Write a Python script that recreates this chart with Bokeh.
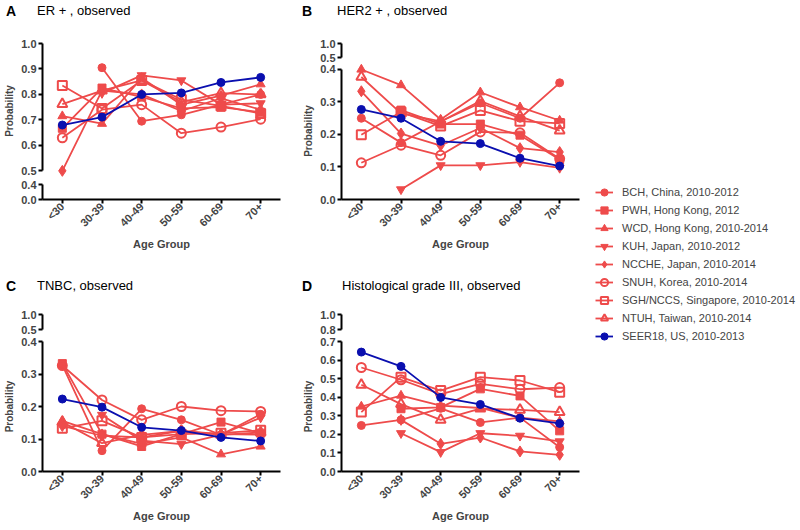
import math
import numpy as np
from bokeh.plotting import figure
from bokeh.layouts import row, column
from bokeh.models import (FactorRange, Range1d, FixedTicker, NumeralTickFormatter,
                          Legend, LegendItem, ColumnDataSource, Div)
from bokeh.embed import file_html
from bokeh.resources import INLINE

nan = float("nan")

age_groups = ["<30", "30-39", "40-49", "50-59", "60-69", "70+"]

series_names = [
    "BCH, China, 2010-2012",
    "PWH, Hong Kong, 2012",
    "WCD, Hong Kong, 2010-2014",
    "KUH, Japan, 2010-2012",
    "NCCHE, Japan, 2010-2014",
    "SNUH, Korea, 2010-2014",
    "SGH/NCCS, Singapore, 2010-2014",
    "NTUH, Taiwan, 2010-2014",
    "SEER18, US, 2010-2013",
]

panel_letters = ["A", "B", "C", "D"]
panel_titles = ["ER + , observed", "HER2 + , observed", "TNBC, observed",
                "Histological grade III, observed"]

# ER+, observed
er_pos = [
    [nan, 0.905, 0.695, 0.72, 0.76, 0.80],
    [0.667, 0.825, 0.79, 0.745, 0.75, 0.73],
    [0.715, 0.685, 0.865, 0.76, 0.795, 0.84],
    [nan, 0.805, 0.875, 0.855, 0.76, 0.765],
    [0.50, 0.815, 0.80, 0.735, 0.785, 0.74],
    [0.63, 0.74, 0.76, 0.648, 0.672, 0.703],
    [0.835, 0.745, 0.855, 0.78, 0.755, 0.725],
    [0.762, 0.815, 0.855, 0.77, 0.805, 0.80],
    [0.68, 0.711, 0.80, 0.806, 0.847, 0.867],
]

# HER2+, observed
her2_pos = [
    [0.25, 0.175, 0.24, 0.297, 0.25, 0.359],
    [nan, 0.275, 0.232, 0.232, 0.198, 0.123],
    [0.40, 0.352, 0.246, 0.33, 0.284, 0.243],
    [nan, 0.031, 0.105, 0.105, 0.115, 0.097],
    [0.333, 0.203, 0.166, 0.22, 0.158, 0.146],
    [0.113, 0.167, 0.136, 0.208, 0.205, 0.125],
    [0.199, 0.269, 0.226, 0.274, 0.241, 0.234],
    [0.377, 0.265, 0.24, 0.303, 0.256, 0.212],
    [0.277, 0.25, 0.179, 0.172, 0.127, 0.103],
]

# TNBC, observed
tnbc = [
    [0.327, 0.064, 0.193, 0.159, 0.113, 0.176],
    [0.332, 0.115, 0.077, 0.115, 0.152, 0.118],
    [0.156, 0.115, 0.085, 0.105, 0.053, 0.077],
    [nan, 0.174, 0.095, 0.084, 0.113, 0.166],
    [0.14, 0.11, 0.105, 0.125, 0.115, 0.113],
    [0.326, 0.22, 0.159, 0.20, 0.187, 0.185],
    [0.133, 0.156, 0.105, 0.115, 0.118, 0.127],
    [0.152, 0.087, 0.113, 0.125, 0.113, 0.12],
    [0.223, 0.198, 0.136, 0.126, 0.105, 0.094],
]

# Histological grade III, observed
grade3 = [
    [0.248, 0.278, 0.34, 0.264, 0.29, 0.131],
    [nan, 0.338, 0.345, 0.445, 0.407, 0.219],
    [0.35, 0.409, 0.355, 0.342, 0.29, 0.27],
    [nan, 0.206, 0.104, 0.206, 0.192, 0.162],
    [nan, 0.278, 0.149, 0.183, 0.108, 0.09],
    [0.56, 0.494, 0.417, 0.472, 0.443, 0.452],
    [0.32, 0.508, 0.436, 0.508, 0.49, 0.427],
    [0.467, 0.363, 0.278, 0.338, 0.332, 0.32],
    [0.643, 0.566, 0.399, 0.361, 0.287, 0.259],
]

RED = "#EE4B4B"
BLUE = "#0A0FAF"
FONT = "Liberation Sans"

styles = [
    dict(marker="circle", size=8, color=RED, hollow=False),
    dict(marker="square", size=8, color=RED, hollow=False),
    dict(marker="triangle", size=9, color=RED, hollow=False),
    dict(marker="inverted_triangle", size=9, color=RED, hollow=False),
    dict(marker="diamond", size=11, color=RED, hollow=False),
    dict(marker="circle", size=9, color=RED, hollow=True),
    dict(marker="square", size=9, color=RED, hollow=True),
    dict(marker="triangle", size=10, color=RED, hollow=True),
    dict(marker="circle", size=8, color=BLUE, hollow=False),
]

FRAME_W = 238
LEFT = 42
R1 = 19
R2 = 5
COL1_W = LEFT + FRAME_W + R1
COL2_W = LEFT + FRAME_W + R2


def make_fig(frame_h, yr, mb_top, mb_bottom, mb_right, has_x):
    p = figure(x_range=FactorRange(factors=age_groups, range_padding=0),
               y_range=Range1d(*yr),
               frame_width=FRAME_W, frame_height=frame_h,
               min_border_left=LEFT, min_border_right=mb_right,
               min_border_top=mb_top, min_border_bottom=mb_bottom,
               x_axis_location="below" if has_x else None,
               output_backend="svg", toolbar_location=None)
    p.outline_line_color = None
    p.grid.visible = False
    p.background_fill_color = None
    p.border_fill_color = None
    if has_x:
        ax = p.xaxis[0]
        ax.axis_line_width = 2
        ax.major_tick_line_width = 2
        ax.major_tick_out = 4
        ax.major_tick_in = 0
        ax.major_label_orientation = math.pi / 4
        ax.major_label_text_font = FONT
        ax.major_label_text_font_style = "bold"
        ax.major_label_text_font_size = "11px"
        ax.major_label_standoff = 1
        ax.axis_label = "Age Group"
        ax.axis_label_text_font = FONT
        ax.axis_label_text_font_style = "bold"
        ax.axis_label_text_font_size = "11px"
        ax.axis_label_standoff = 2
    return p


def style_y(p, ticks, bounds, label):
    ax = p.yaxis[0]
    ax.ticker = FixedTicker(ticks=ticks)
    ax.formatter = NumeralTickFormatter(format="0.0")
    ax.bounds = bounds
    ax.axis_line_width = 2
    ax.major_tick_line_width = 2
    ax.major_tick_out = 4
    ax.major_tick_in = 0
    ax.minor_tick_line_color = None
    ax.major_label_text_font = FONT
    ax.major_label_text_font_style = "bold"
    ax.major_label_text_font_size = "11px"
    ax.major_label_standoff = 2
    if label:
        ax.axis_label = "Probability"
        ax.axis_label_text_font = FONT
        ax.axis_label_text_font_style = "bold"
        ax.axis_label_text_font_size = "10px"
        ax.axis_label_standoff = 3


def draw(p, values):
    for vals, st in zip(values, styles):
        src = ColumnDataSource(dict(x=age_groups, y=np.array(vals, dtype=float)))
        p.line("x", "y", source=src, line_color=st["color"], line_width=1.8)
        p.scatter("x", "y", source=src, marker=st["marker"], size=st["size"],
                  line_color=st["color"], line_width=2 if st["hollow"] else 1,
                  fill_color=st["color"], fill_alpha=0 if st["hollow"] else 1)


def title_div(width, height, letter, text, lx, tx, top):
    html = (
        f'<div style="position:relative;width:{width}px;height:{height}px;'
        f'font-family:\'{FONT}\';line-height:1.15;color:#000;">'
        f'<span style="position:absolute;left:{lx}px;top:{top - 1}px;'
        f'font-size:14px;font-weight:bold;white-space:nowrap;">{letter}</span>'
        f'<span style="position:absolute;left:{tx}px;top:{top}px;'
        f'font-size:13px;white-space:nowrap;">{text}</span></div>'
    )
    return Div(text=html, width=width, height=height, margin=0)


# Column 1 -------------------------------------------------------------
t_a = title_div(COL1_W, 28, panel_letters[0], panel_titles[0], 6, 37, 4)

a_main = make_fig(135, (0.47, 1.0), 15, 0, R1, False)
style_y(a_main, [0.5, 0.6, 0.7, 0.8, 0.9, 1.0], (0.5, 1.0), True)
draw(a_main, er_pos)

a_small = make_fig(15, (0.0, 0.4), 6, 52, R1, True)
style_y(a_small, [0.0, 0.4], (0.0, 0.4), False)

t_c = title_div(COL1_W, 42, panel_letters[2], panel_titles[2], 6, 37, 27)

c_small = make_fig(15, (0.5, 1.0), 20, 5, R1, False)
style_y(c_small, [0.5, 1.0], (0.5, 1.0), False)

c_main = make_fig(130, (0.0, 0.4), 7, 55, R1, True)
style_y(c_main, [0.0, 0.1, 0.2, 0.3, 0.4], (0.0, 0.4), True)
draw(c_main, tnbc)

# Column 2 -------------------------------------------------------------
t_b = title_div(COL2_W, 28, panel_letters[1], panel_titles[1], 3, 38, 4)

b_small = make_fig(14, (0.5, 1.0), 15, 5, R2, False)
style_y(b_small, [0.5, 1.0], (0.5, 1.0), False)

b_main = make_fig(137, (0.0, 0.4215), 0, 52, R2, True)
style_y(b_main, [0.0, 0.1, 0.2, 0.3, 0.4], (0.0, 0.4), True)
draw(b_main, her2_pos)

t_d = title_div(COL2_W, 42, panel_letters[3], panel_titles[3], 3, 43, 27)

d_small = make_fig(15, (0.8, 1.0), 20, 5, R2, False)
style_y(d_small, [0.8, 1.0], (0.8, 1.0), False)

d_main = make_fig(130, (0.0, 0.7), 7, 55, R2, True)
style_y(d_main, [0.0, 0.1, 0.2, 0.3, 0.4, 0.5, 0.6, 0.7], (0.0, 0.7), True)
draw(d_main, grade3)

# Legend panel -----------------------------------------------------------
LEG_W = 800 - COL1_W - COL2_W
leg = figure(width=LEG_W, height=525, min_border=0, x_range=Range1d(0, 1),
             y_range=Range1d(0, 1), x_axis_location=None, y_axis_location=None,
             output_backend="svg", toolbar_location=None)
leg.outline_line_color = None
leg.grid.visible = False
items = []
for name, st in zip(series_names, styles):
    src = ColumnDataSource(dict(x=[nan], y=[nan]))
    r1 = leg.line("x", "y", source=src, line_color=st["color"], line_width=1.8)
    r2 = leg.scatter("x", "y", source=src, marker=st["marker"], size=st["size"],
                     line_color=st["color"], line_width=2 if st["hollow"] else 1,
                     fill_color=st["color"], fill_alpha=0 if st["hollow"] else 1)
    items.append(LegendItem(label=name, renderers=[r1, r2]))
legend = Legend(items=items, location=(11, 180), border_line_color=None,
                background_fill_alpha=0, padding=0, margin=0, spacing=0,
                glyph_width=18, glyph_height=18, label_height=18,
                label_standoff=9, label_text_font=FONT,
                label_text_font_size="11px")
leg.add_layout(legend)

layout = row(column(t_a, a_main, a_small, t_c, c_small, c_main),
             column(t_b, b_small, b_main, t_d, d_small, d_main),
             leg)

open("out.html", "w").write(file_html(layout, INLINE))
